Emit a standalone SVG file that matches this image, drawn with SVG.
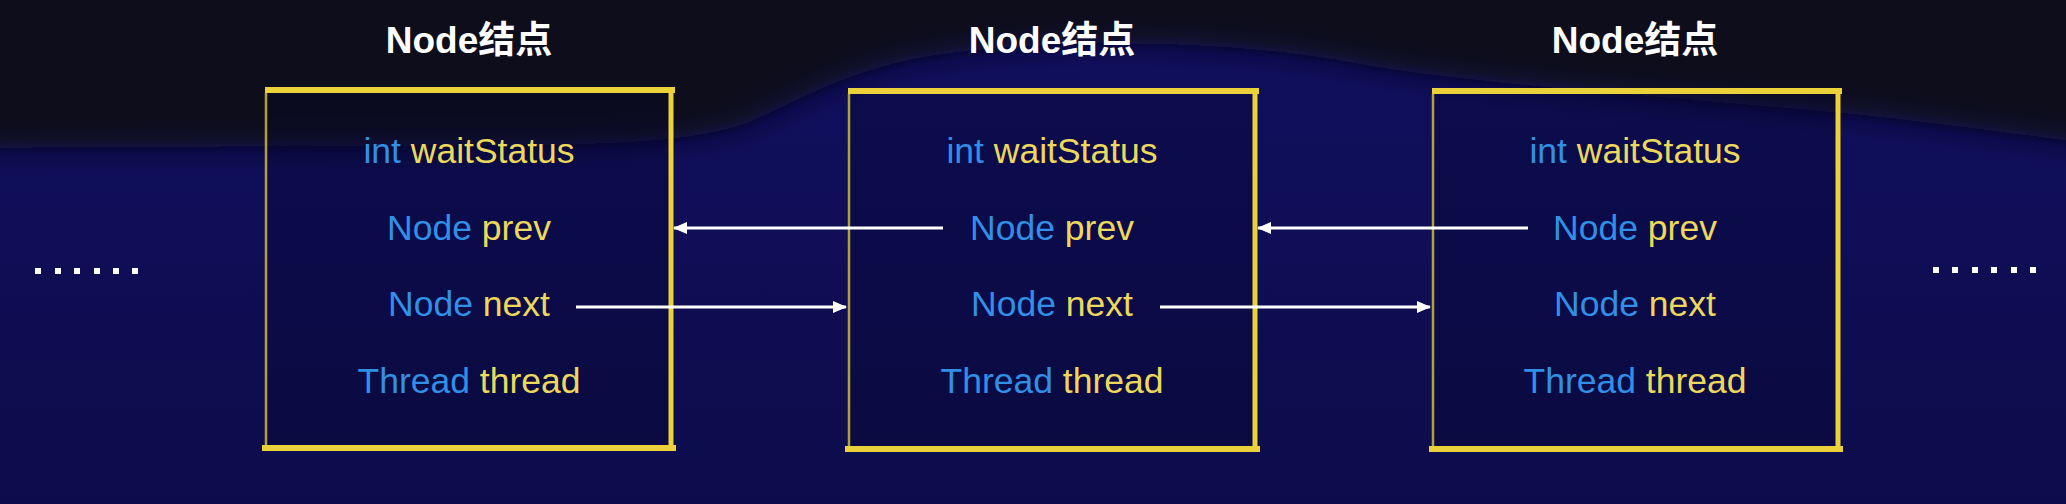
<svg xmlns="http://www.w3.org/2000/svg" width="2066" height="504" viewBox="0 0 2066 504">
<defs>
<filter id="soft" x="-10%" y="-50%" width="120%" height="200%"><feGaussianBlur stdDeviation="12"/></filter>
<linearGradient id="bg" x1="0" y1="0" x2="0" y2="1">
<stop offset="0" stop-color="#100f5e"/>
<stop offset="0.5" stop-color="#0f0e56"/>
<stop offset="1" stop-color="#0d0c4a"/>
</linearGradient>
<marker id="ah" viewBox="0 0 14 12" refX="13" refY="6" markerWidth="14" markerHeight="12" markerUnits="userSpaceOnUse" orient="auto">
<path d="M0,0 L14,6 L0,12 Z" fill="#ffffff"/>
</marker>
<style>
.title{font-family:"Liberation Sans","Noto Sans CJK SC",sans-serif;font-weight:bold;font-size:37px;fill:#ffffff;text-anchor:middle}
.row{font-family:"Liberation Sans","Noto Sans",sans-serif;font-size:35.5px;text-anchor:middle}
.t{fill:#3190e6}
.v{fill:#ecd85c}
.fill{fill:#07072a;fill-opacity:0.3}
.edge{stroke:#ecd23a;fill:none;stroke-linecap:square}
.conn{stroke:#ffffff;stroke-width:3;fill:none}
.dot{fill:#ffffff}
</style>
</defs>
<rect x="0" y="0" width="2066" height="504" fill="url(#bg)"/>
<path d="M-40,-40 H2110 V146 C2000,132 1900,118 1830,112 C1660,96 1470,84 1360,64 C1260,44 1100,36 960,52 C860,62 800,100 750,122 C700,140 640,142 560,145 L-40,148 Z" fill="#0b0b1e" filter="url(#soft)"/>

<g id="node1">
<text class="title" x="469" y="53">Node结点</text>
<rect class="fill" x="265" y="90" width="407" height="359"/>
<line class="edge" x1="266" y1="94" x2="266" y2="446" stroke-width="2.5" stroke-opacity="0.75"/>
<line class="edge" x1="671" y1="90" x2="671" y2="448" stroke-width="5"/>
<line class="edge" x1="268" y1="90" x2="672" y2="90" stroke-width="6"/>
<line class="edge" x1="265" y1="448" x2="673" y2="448" stroke-width="6"/>
<text class="row" x="469" y="163"><tspan class="t">int</tspan> <tspan class="v">waitStatus</tspan></text>
<text class="row" x="469" y="240"><tspan class="t">Node</tspan> <tspan class="v">prev</tspan></text>
<text class="row" x="469" y="316"><tspan class="t">Node</tspan> <tspan class="v">next</tspan></text>
<text class="row" x="469" y="393"><tspan class="t">Thread</tspan> <tspan class="v">thread</tspan></text>
</g>

<g id="node2">
<text class="title" x="1052" y="53">Node结点</text>
<rect class="fill" x="848" y="91" width="408" height="358"/>
<line class="edge" x1="849" y1="95" x2="849" y2="447" stroke-width="2.5" stroke-opacity="0.75"/>
<line class="edge" x1="1255" y1="91" x2="1255" y2="449" stroke-width="5"/>
<line class="edge" x1="851" y1="91" x2="1256" y2="91" stroke-width="6"/>
<line class="edge" x1="848" y1="449" x2="1257" y2="449" stroke-width="6"/>
<text class="row" x="1052" y="163"><tspan class="t">int</tspan> <tspan class="v">waitStatus</tspan></text>
<text class="row" x="1052" y="240"><tspan class="t">Node</tspan> <tspan class="v">prev</tspan></text>
<text class="row" x="1052" y="316"><tspan class="t">Node</tspan> <tspan class="v">next</tspan></text>
<text class="row" x="1052" y="393"><tspan class="t">Thread</tspan> <tspan class="v">thread</tspan></text>
</g>

<g id="node3">
<text class="title" x="1635" y="53">Node结点</text>
<rect class="fill" x="1432" y="91" width="407" height="358"/>
<line class="edge" x1="1433" y1="95" x2="1433" y2="447" stroke-width="2.5" stroke-opacity="0.75"/>
<line class="edge" x1="1838" y1="91" x2="1838" y2="449" stroke-width="5"/>
<line class="edge" x1="1435" y1="91" x2="1839" y2="91" stroke-width="6"/>
<line class="edge" x1="1432" y1="449" x2="1840" y2="449" stroke-width="6"/>
<text class="row" x="1635" y="163"><tspan class="t">int</tspan> <tspan class="v">waitStatus</tspan></text>
<text class="row" x="1635" y="240"><tspan class="t">Node</tspan> <tspan class="v">prev</tspan></text>
<text class="row" x="1635" y="316"><tspan class="t">Node</tspan> <tspan class="v">next</tspan></text>
<text class="row" x="1635" y="393"><tspan class="t">Thread</tspan> <tspan class="v">thread</tspan></text>
</g>

<g id="connectors">
<line class="conn" x1="943" y1="228" x2="674" y2="228" marker-end="url(#ah)"/>
<line class="conn" x1="1528" y1="228" x2="1258" y2="228" marker-end="url(#ah)"/>
<line class="conn" x1="576" y1="307" x2="846" y2="307" marker-end="url(#ah)"/>
<line class="conn" x1="1160" y1="307" x2="1430" y2="307" marker-end="url(#ah)"/>
</g>

<g id="ellipsis-left">
<rect class="dot" x="35" y="268" width="6" height="6"/>
<rect class="dot" x="55" y="268" width="6" height="6"/>
<rect class="dot" x="74" y="268" width="6" height="6"/>
<rect class="dot" x="94" y="268" width="6" height="6"/>
<rect class="dot" x="113" y="268" width="6" height="6"/>
<rect class="dot" x="132" y="268" width="6" height="6"/>
</g>
<g id="ellipsis-right">
<rect class="dot" x="1933" y="267" width="6" height="6"/>
<rect class="dot" x="1952" y="267" width="6" height="6"/>
<rect class="dot" x="1972" y="267" width="6" height="6"/>
<rect class="dot" x="1991" y="267" width="6" height="6"/>
<rect class="dot" x="2011" y="267" width="6" height="6"/>
<rect class="dot" x="2030" y="267" width="6" height="6"/>
</g>
</svg>
